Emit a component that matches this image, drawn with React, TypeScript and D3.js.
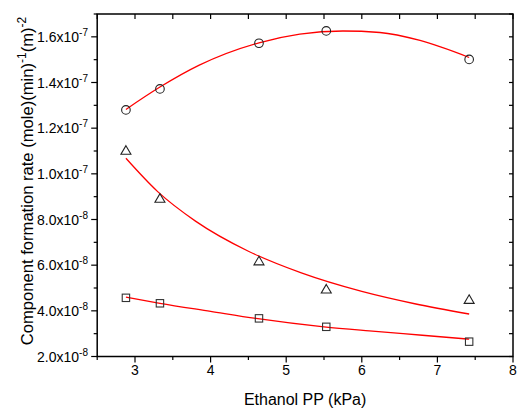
import React from "react";
import * as d3 from "d3";

const xValues = [2.88, 3.33, 4.64, 5.53, 7.42];
const circleValues = [1.28e-7, 1.372e-7, 1.572e-7, 1.626e-7, 1.501e-7];
const triangleValues = [1.103e-7, 8.93e-8, 6.19e-8, 4.955e-8, 4.5e-8];
const squareValues = [4.57e-8, 4.33e-8, 3.67e-8, 3.3e-8, 2.65e-8];

const circleFitX = [2.88, 3.33, 3.85, 4.64, 5.18, 5.75, 6.24, 6.77, 7.42];
const circleFitY = [1.282e-7, 1.38e-7, 1.476e-7, 1.574e-7, 1.612e-7, 1.6255e-7, 1.619e-7, 1.584e-7, 1.5095e-7];
const triangleFitX = [2.88, 3.3, 3.8, 4.5, 5.2, 6.0, 6.7, 7.42];
const triangleFitY = [1.068e-7, 9.22e-8, 7.93e-8, 6.61e-8, 5.66e-8, 4.85e-8, 4.31e-8, 3.86e-8];
const squareFitX = [2.88, 3.33, 4.0, 4.6, 5.5, 6.1, 6.8, 7.42];
const squareFitY = [4.6e-8, 4.33e-8, 3.98e-8, 3.67e-8, 3.3e-8, 3.12e-8, 2.93e-8, 2.76e-8];

const xTicks = [3, 4, 5, 6, 7, 8];
const xMinorTicks = [2.5, 3.5, 4.5, 5.5, 6.5, 7.5];
const yTicks = [2e-8, 4e-8, 6e-8, 8e-8, 1e-7, 1.2e-7, 1.4e-7, 1.6e-7];
const yMinorTicks = [3e-8, 5e-8, 7e-8, 9e-8, 1.1e-7, 1.3e-7, 1.5e-7, 1.7e-7];

const W = 517;
const H = 410;
const L = 97.2;
const R = 513;
const T = 14;
const B = 356.5;

const FONT = "'Liberation Sans', Arial, sans-serif";

function fmt(v: number) {
  const e = Math.floor(Math.log10(v) + 1e-9);
  const m = v / Math.pow(10, e);
  return { m: m.toFixed(1), e: String(e) };
}

export default function App() {
  const x = d3.scaleLinear().domain([2.5, 8]).range([L, R]);
  const y = d3.scaleLinear().domain([2e-8, 1.7e-7]).range([B, T]);

  const line = d3
    .line<[number, number]>()
    .x((d) => x(d[0]))
    .y((d) => y(d[1]))
    .curve(d3.curveMonotoneX);

  const fits = [
    circleFitX.map((v, i) => [v, circleFitY[i]] as [number, number]),
    triangleFitX.map((v, i) => [v, triangleFitY[i]] as [number, number]),
    squareFitX.map((v, i) => [v, squareFitY[i]] as [number, number]),
  ];

  const stroke = "#000";

  return (
    <svg width={W} height={H} style={{ position: "absolute", left: 0, top: 0, background: "#fff" }} fontFamily={FONT}>
      <rect x={0} y={0} width={W} height={H} fill="#fff" />
      {fits.map((f, i) => (
        <path key={i} d={line(f) || ""} fill="none" stroke="#ff0000" strokeWidth={1.3} />
      ))}
      {xValues.map((v, i) => (
        <circle key={"c" + i} cx={x(v)} cy={y(circleValues[i])} r={4.3} fill="none" stroke="#222" strokeWidth={1.1} />
      ))}
      {xValues.map((v, i) => {
        const cx = x(v);
        const cy = y(triangleValues[i]);
        return (
          <path
            key={"t" + i}
            d={`M${cx},${cy - 4.6}L${cx + 5},${cy + 4}L${cx - 5},${cy + 4}Z`}
            fill="none"
            stroke="#222"
            strokeWidth={1.1}
          />
        );
      })}
      {xValues.map((v, i) => (
        <rect
          key={"s" + i}
          x={x(v) - 3.7}
          y={y(squareValues[i]) - 3.7}
          width={7.4}
          height={7.4}
          fill="none"
          stroke="#333"
          strokeWidth={1.1}
        />
      ))}
      <rect x={L} y={T} width={R - L} height={B - T} fill="none" stroke="#000" strokeWidth={1.5} />
      {xTicks.map((t) => (
        <g key={"xt" + t}>
          <line x1={x(t)} x2={x(t)} y1={B} y2={B + 6} stroke={stroke} strokeWidth={1.2} />
          <line x1={x(t)} x2={x(t)} y1={T} y2={T + 5} stroke={stroke} strokeWidth={1.2} />
          <text x={x(t)} y={375} textAnchor="middle" fontSize={14} fill="#000">
            {t}
          </text>
        </g>
      ))}
      {xMinorTicks.map((t) => (
        <g key={"xm" + t}>
          <line x1={x(t)} x2={x(t)} y1={B} y2={B + 3.5} stroke={stroke} strokeWidth={1.2} />
          <line x1={x(t)} x2={x(t)} y1={T} y2={T + 5} stroke={stroke} strokeWidth={1.2} />
        </g>
      ))}
      {yTicks.map((t) => {
        const f = fmt(t);
        return (
          <g key={"yt" + t}>
            <line x1={L - 6} x2={L} y1={y(t)} y2={y(t)} stroke={stroke} strokeWidth={1.2} />
            <line x1={R - 4} x2={R} y1={y(t)} y2={y(t)} stroke={stroke} strokeWidth={1.2} />
            <text x={88} y={y(t) + 5} textAnchor="end" fontSize={14} fill="#000">
              {f.m}x10
              <tspan dy={-6} fontSize={10}>
                {f.e}
              </tspan>
            </text>
          </g>
        );
      })}
      {yMinorTicks.map((t) => (
        <g key={"ym" + t}>
          <line x1={L - 3.5} x2={L} y1={y(t)} y2={y(t)} stroke={stroke} strokeWidth={1.2} />
          <line x1={R - 4} x2={R} y1={y(t)} y2={y(t)} stroke={stroke} strokeWidth={1.2} />
        </g>
      ))}
      <text x={(L + R) / 2} y={405} textAnchor="middle" fontSize={16} fill="#000">
        Ethanol PP (kPa)
      </text>
      <text transform={`translate(33,181) rotate(-90)`} textAnchor="middle" fontSize={16.6} fill="#000">
        Component formation rate (mole)(min)
        <tspan dy={-7} fontSize={12}>-1</tspan>
        <tspan dy={7}>(m)</tspan>
        <tspan dy={-7} fontSize={12}>-2</tspan>
      </text>
    </svg>
  );
}
